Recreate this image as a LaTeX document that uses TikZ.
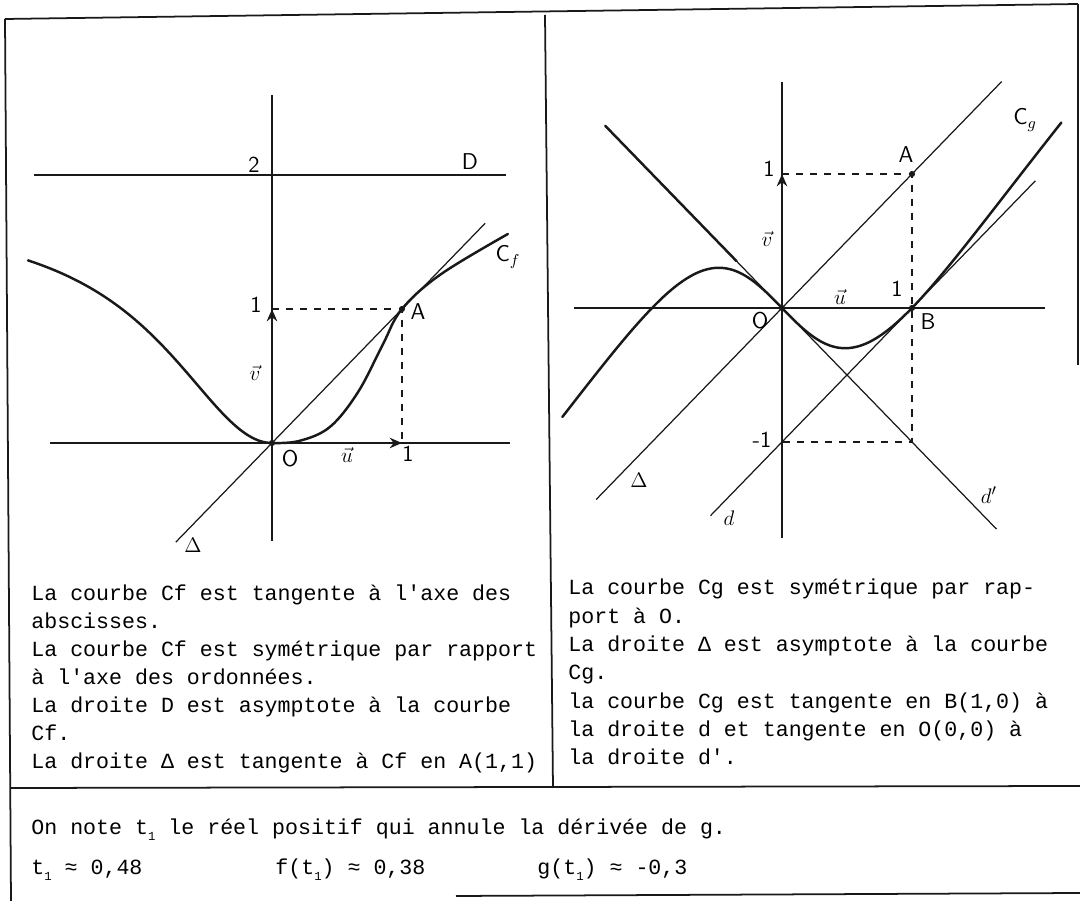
\documentclass[tikz,border=0pt]{standalone}
\usepackage{fontspec}
\setmonofont{Liberation Mono}
\usepackage{tikz}
\usetikzlibrary{arrows.meta}
\definecolor{Ink}{RGB}{25,25,25}

\tikzset{
  frameline/.style={Ink, line width=1pt},
  axisline/.style={Ink, line width=0.8pt},
  thinline/.style={Ink, line width=0.7pt},
  curveline/.style={Ink, line width=1.4pt, line join=round, line cap=round},
  guide/.style={Ink, line width=0.7pt, dash pattern=on 4pt off 4pt},
  unitarrow/.style={Ink, line width=0.8pt, -{Stealth[length=7pt,width=6pt]}},
  lbl/.style={font=\sffamily\fontsize{13}{13}\selectfont, inner sep=1pt},
  txt/.style={font=\ttfamily\fontsize{12.3}{16}\selectfont, inner sep=0pt, anchor=base west},
  dotpt/.style={circle, fill=Ink, inner sep=0pt, minimum size=3.5pt},
}

\begin{document}
\begin{tikzpicture}[x=0.02cm, y=-0.02cm]
\useasboundingbox (0,0) rectangle (1080,901);

% frame of the table
\draw[frameline] (5,19) -- (1078,4);
\draw[frameline] (5,19) -- (11,901);
\draw[frameline] (1078,4) -- (1078,365);
\draw[frameline] (545,15) -- (553,788);
\draw[frameline] (11,788) -- (1080,786);
\draw[frameline] (456,896) -- (1080,893);

% --- left graph : Cf
\begin{scope}[shift={(272,443)}, x=2.6cm, y=2.68cm]
  \coordinate (fO) at (0,0);
  \coordinate (fA) at (1,1);
  \coordinate (fX1) at (1,0);
  \coordinate (fY1) at (0,1);
  \draw[axisline] (-1.71,0) -- (1.83,0);
  \draw[axisline] (0,-0.73) -- (0,2.6);
  \draw[axisline] (-1.83,2) -- (1.8,2);
  \draw[thinline] (-0.74,-0.74) -- (1.64,1.64);
  \draw[unitarrow] (fO) -- (fX1);
  \draw[unitarrow] (fO) -- (fY1);
  \draw[guide] (fY1) -- (fA) -- (fX1);
  \draw[curveline] plot[domain=-1.877:0, samples=50, smooth]
      (\x, {1.75*\x*\x/(1+\x*\x)})
    -- plot[smooth, tension=0.6] coordinates {
      (0,0) (0.208,0.015) (0.446,0.12) (0.662,0.38) (0.85,0.73)
      (1,1) (1.3,1.26) (1.815,1.56)};
  \node[dotpt] (fAdot) at (fA) {};
  \node[dotpt] (fOdot) at (fO) {};
\end{scope}
\node[lbl] (lTwo) at (254,165) {2};
\node[lbl] (lD) at (470,162) {D};
\node[lbl] (lOneY) at (256,305) {1};
\node[lbl] (lA) at (418,312) {A};
\node[lbl] (lCf) at (508,257) {C$_f$};
\node[lbl] (lV) at (255,373) {$\vec{v}$};
\node[lbl] (lO) at (290,459) {O};
\node[lbl] (lU) at (347,455) {$\vec{u}$};
\node[lbl] (lOneX) at (408,454) {1};
\node[lbl] (lDelta) at (193,545) {$\Delta$};

% --- right graph : Cg
\begin{scope}[shift={(782,308)}, x=2.6cm, y=2.68cm]
  \coordinate (gO) at (0,0);
  \coordinate (gA) at (1,1);
  \coordinate (gB) at (1,0);
  \coordinate (gY1) at (0,1);
  \coordinate (gYm) at (0,-1);
  \coordinate (gQ) at (1,-1);
  \draw[axisline] (-1.6,0) -- (2.02,0);
  \draw[axisline] (0,-1.72) -- (0,1.69);
  \draw[thinline] (-1.43,-1.43) -- (1.69,1.69);
  \draw[thinline] (-1.36,1.36) -- (1.65,-1.65);
  \draw[curveline] (-1.36,1.36) -- (-0.35,0.35);
  \draw[thinline] (-0.55,-1.55) -- (1.95,0.95);
  \draw[unitarrow] (gO) -- (gY1);
  \draw[guide] (gY1) -- (gA) -- (gQ) -- (gYm);
  \draw[curveline] plot[domain=-1.69:2.15, samples=90, smooth]
    (\x, {\x - 2*\x/(1+\x*\x)});
  \node[dotpt] (gAdot) at (gA) {};
  \node[dotpt] (gBdot) at (gB) {};
  \node[dotpt] (gOdot) at (gO) {};
\end{scope}
\node[lbl] (rOneY) at (769,169) {1};
\node[lbl] (rA) at (906,155) {A};
\node[lbl] (rV) at (767,239) {$\vec{v}$};
\node[lbl] (rO) at (760,321) {O};
\node[lbl] (rU) at (840,297) {$\vec{u}$};
\node[lbl] (rOneX) at (897,289) {1};
\node[lbl] (rB) at (928,322) {B};
\node[lbl] (rMinus) at (762,440) {-1};
\node[lbl] (rDelta) at (639,480) {$\Delta$};
\node[lbl] (rd) at (729,518) {$d$};
\node[lbl] (rdp) at (989,495) {$d'$};
\node[lbl] (rCg) at (1025,120) {C$_g$};

% --- texts
\foreach \i/\t in {0/{La courbe Cf est tangente à l'axe des},
                   1/{abscisses.},
                   2/{La courbe Cf est symétrique par rapport},
                   3/{à l'axe des ordonnées.},
                   4/{La droite D est asymptote à la courbe},
                   5/{Cf.},
                   6/{La droite Δ est tangente à Cf en A(1,1)}}
  \node[txt] (left\i) at (31,{601+28*\i}) {\t};
\foreach \i/\t in {0/{La courbe Cg est symétrique par rap-},
                   1/{port à O.},
                   2/{La droite Δ est asymptote à la courbe},
                   3/{Cg.},
                   4/{la courbe Cg est tangente en B(1,0) à},
                   5/{la droite d et tangente en O(0,0) à},
                   6/{la droite d'.}}
  \node[txt] (right\i) at (568,{595+28.3*\i}) {\t};
\node[txt] (note) at (31,835)
  {On note t\raisebox{-0.45ex}{\scriptsize 1} le réel positif qui annule la dérivée de g.};
\node[txt] (valT) at (31,875) {t\raisebox{-0.45ex}{\scriptsize 1} ≈ 0,48};
\node[txt] (valF) at (275,875) {f(t\raisebox{-0.45ex}{\scriptsize 1}) ≈ 0,38};
\node[txt] (valG) at (537,875) {g(t\raisebox{-0.45ex}{\scriptsize 1}) ≈ -0,3};
\end{tikzpicture}
\end{document}
